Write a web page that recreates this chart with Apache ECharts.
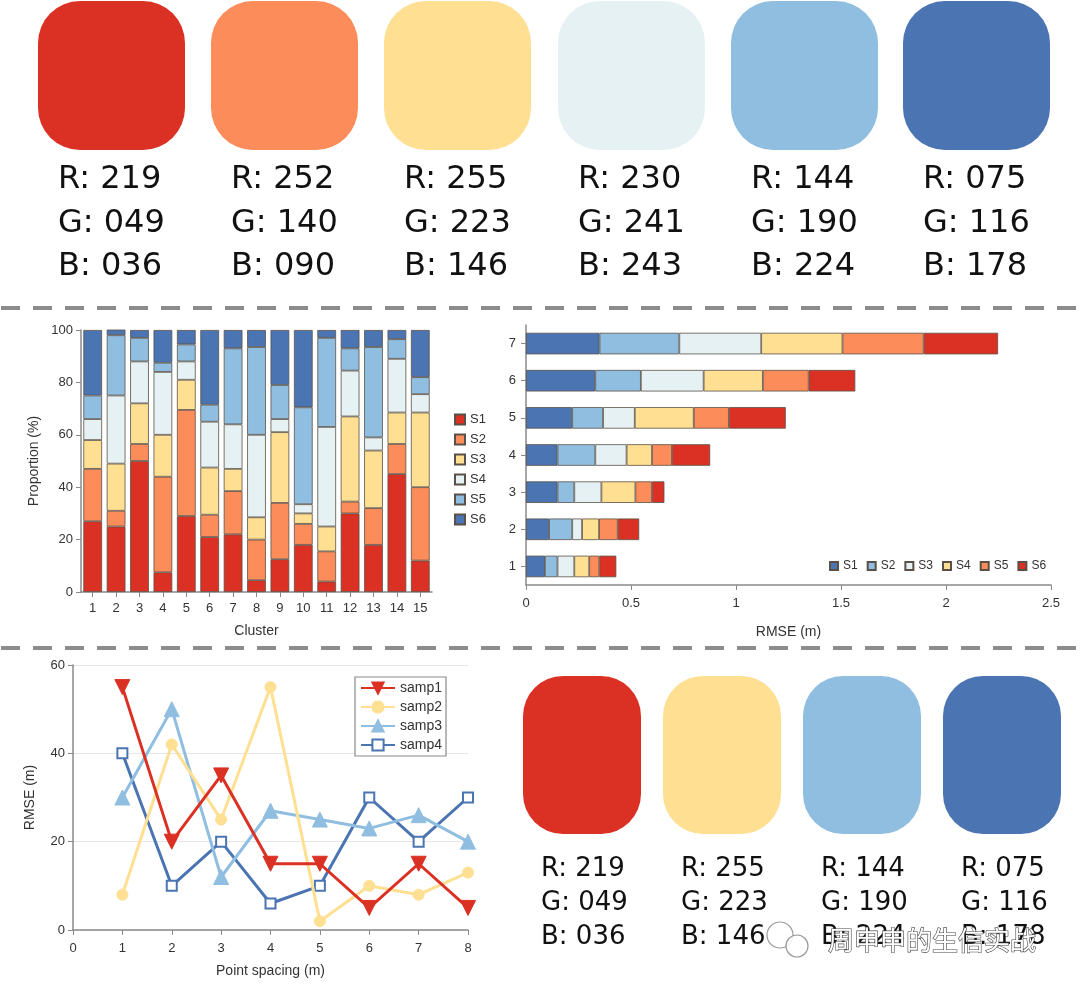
<!DOCTYPE html>
<html>
<head>
<meta charset="utf-8">
<script src="https://cdn.jsdelivr.net/npm/echarts@6/dist/echarts.min.js"></script>
<style>html,body{margin:0;padding:0;background:#fff;}#main{width:1080px;height:988px;}</style>
</head>
<body>
<div id="main"></div>
<script>
// ---------- DATA ----------
const topSwatchRGB = [[219,49,36],[252,140,90],[255,223,146],[230,241,243],[144,190,224],[75,116,178]];
const bottomSwatchRGB = [[219,49,36],[255,223,146],[144,190,224],[75,116,178]];

const clusters = ['1','2','3','4','5','6','7','8','9','10','11','12','13','14','15'];
const propNames = ['S1','S2','S3','S4','S5','S6'];
const propS1 = [27, 25, 50, 7.5, 29, 21, 22, 4.5, 12.5, 18, 4, 30, 18, 45, 12];
const propS2 = [20, 6, 6.5, 36.5, 40.5, 8.5, 16.5, 15.5, 21.5, 8, 11.5, 4.5, 14, 11.5, 28];
const propS3 = [11, 18, 15.5, 16, 11.5, 18, 8.5, 8.5, 27, 4, 9.5, 32.5, 22, 12, 28.5];
const propS4 = [8, 26, 16, 24, 7, 17.5, 17, 31.5, 5, 3.5, 38, 17.5, 5, 20.5, 7];
const propS5 = [9, 23, 9, 3.5, 6.5, 6.5, 29, 33.5, 13, 37, 34, 8.5, 34.5, 7.5, 6.5];
const propS6 = [25, 3, 3, 12.5, 5.5, 28.5, 7, 6.5, 21, 29.5, 3, 7, 6.5, 3.5, 18];

const rmseLevels = ['1','2','3','4','5','6','7'];
const rmseNames = ['S1','S2','S3','S4','S5','S6'];
const rmseS1 = [0.09, 0.11, 0.15, 0.15, 0.22, 0.33, 0.35];
const rmseS2 = [0.06, 0.11, 0.08, 0.18, 0.147, 0.217, 0.38];
const rmseS3 = [0.08, 0.047, 0.129, 0.149, 0.151, 0.299, 0.39];
const rmseS4 = [0.071, 0.081, 0.162, 0.121, 0.281, 0.282, 0.387];
const rmseS5 = [0.048, 0.089, 0.079, 0.095, 0.167, 0.218, 0.387];
const rmseS6 = [0.081, 0.102, 0.059, 0.182, 0.271, 0.222, 0.354];

const spacing = [1, 2, 3, 4, 5, 6, 7, 8];
const samp1 = [55, 20, 35, 15, 15, 5, 15, 5];
const samp2 = [8, 42, 25, 55, 2, 10, 8, 13];
const samp3 = [30, 50, 12, 27, 25, 23, 26, 20];
const samp4 = [40, 10, 20, 6, 10, 30, 20, 30];
const sampNames = ['samp1','samp2','samp3','samp4'];

const watermark = '周申申的生信实战';

// ---------- BUILD ----------
const rgb = c => 'rgb(' + c.join(',') + ')';
const pal = topSwatchRGB.map(rgb);          // red -> blue
const propColors = pal;
const rmseColors = pal.slice().reverse();   // blue -> red
const lineColors = bottomSwatchRGB.map(rgb);

const FONT = '"Liberation Sans", Arial, sans-serif';
const HAND = '"DejaVu Sans", sans-serif';
const axisGray = '#8a8a8a';
const txt = '#333';

const chart = echarts.init(document.getElementById('main'), null, {renderer: 'canvas'});

const graphics = [];
// top swatches
const topX = [38, 211, 384, 558, 731, 903];
topSwatchRGB.forEach((c, i) => {
  graphics.push({type: 'rect', shape: {x: topX[i], y: 1, width: 147, height: 149, r: 42}, style: {fill: rgb(c)}});
  ['R', 'G', 'B'].forEach((k, j) => {
    graphics.push({type: 'text', x: topX[i] + 20, y: [180, 224, 267][j],
      style: {text: k + ': ' + String(c[j]).padStart(3, '0'), fontSize: 32, fontFamily: HAND, fill: '#111', verticalAlign: 'middle'}});
  });
});
// bottom swatches
const botX = [523, 663, 803, 943];
bottomSwatchRGB.forEach((c, i) => {
  graphics.push({type: 'rect', shape: {x: botX[i], y: 676, width: 118, height: 158, r: 40}, style: {fill: rgb(c)}});
  ['R', 'G', 'B'].forEach((k, j) => {
    graphics.push({type: 'text', x: botX[i] + 18, y: [869, 903, 937][j],
      style: {text: k + ': ' + String(c[j]).padStart(3, '0'), fontSize: 26, fontFamily: HAND, fill: '#111', verticalAlign: 'middle'}});
  });
});
// dashed separators
[308, 648].forEach(y => {
  graphics.push({type: 'line', shape: {x1: 1, y1: y, x2: 1080, y2: y},
    style: {stroke: '#8c8c8c', lineWidth: 4, lineDash: [19, 13]}});
});
// watermark (icon + text)
graphics.push({type: 'circle', shape: {cx: 780, cy: 935, r: 13}, z: 100,
  style: {fill: 'rgba(255,255,255,0.85)', stroke: '#999', lineWidth: 1.2}});
graphics.push({type: 'circle', shape: {cx: 797, cy: 946, r: 11}, z: 100,
  style: {fill: 'rgba(255,255,255,0.85)', stroke: '#999', lineWidth: 1.2}});
graphics.push({type: 'text', x: 932, y: 940, z: 100,
  style: {text: watermark, fontSize: 26, fontFamily: '"Noto Sans CJK SC", sans-serif', fill: '#fff',
    stroke: '#444', lineWidth: 1.2, align: 'center', verticalAlign: 'middle'}});

const axisCommon = {
  axisLine: {show: true, lineStyle: {color: axisGray, width: 1.5}},
  axisTick: {show: true, lineStyle: {color: axisGray}},
  axisLabel: {color: txt, fontSize: 13, fontFamily: FONT},
  splitLine: {show: false},
  nameTextStyle: {color: txt, fontSize: 14, fontFamily: FONT}
};

const series = [];
[propS1, propS2, propS3, propS4, propS5, propS6].forEach((d, i) => {
  series.push({type: 'bar', name: propNames[i], stack: 'prop', xAxisIndex: 0, yAxisIndex: 0,
    data: d, barWidth: '80%',
    itemStyle: {color: propColors[i], borderColor: '#5a5048', borderWidth: 0.8}});
});
[rmseS1, rmseS2, rmseS3, rmseS4, rmseS5, rmseS6].forEach((d, i) => {
  series.push({type: 'bar', name: 'R-' + rmseNames[i], stack: 'rmse', xAxisIndex: 1, yAxisIndex: 1,
    data: d, barWidth: '58%',
    itemStyle: {color: rmseColors[i], borderColor: '#5a5048', borderWidth: 0.8}});
});
const symbols = ['triangle', 'circle', 'triangle', 'emptyRect'];
const symRot = [180, 0, 0, 0];
const symSize = [15, 11, 15, 10];
[samp1, samp2, samp3, samp4].forEach((d, i) => {
  series.push({type: 'line', name: sampNames[i], xAxisIndex: 2, yAxisIndex: 2,
    data: spacing.map((x, k) => [x, d[k]]),
    symbol: symbols[i], symbolRotate: symRot[i], symbolSize: symSize[i],
    lineStyle: {color: lineColors[i], width: 3},
    itemStyle: {color: lineColors[i], borderColor: lineColors[i], borderWidth: i === 3 ? 2.5 : 1},
    z: 10 - i});
});

const option = {
  backgroundColor: '#fff',
  animation: false,
  grid: [
    {left: 81, top: 330, width: 351, height: 262},
    {left: 526, top: 325, width: 525, height: 260},
    {left: 73, top: 665, width: 395, height: 265}
  ],
  xAxis: [
    Object.assign({}, axisCommon, {type: 'category', gridIndex: 0, data: clusters,
      axisTick: {show: true, alignWithLabel: true, lineStyle: {color: axisGray}},
      axisLabel: {color: txt, fontSize: 13, fontFamily: FONT, margin: 10},
      name: 'Cluster', nameLocation: 'middle', nameGap: 32}),
    Object.assign({}, axisCommon, {type: 'value', gridIndex: 1, min: 0, max: 2.5, interval: 0.5,
      axisLabel: {color: txt, fontSize: 13, fontFamily: FONT, margin: 12},
      name: 'RMSE (m)', nameLocation: 'middle', nameGap: 40}),
    Object.assign({}, axisCommon, {type: 'value', gridIndex: 2, min: 0, max: 8, interval: 1,
      axisLabel: {color: txt, fontSize: 13, fontFamily: FONT, margin: 12},
      name: 'Point spacing (m)', nameLocation: 'middle', nameGap: 34})
  ],
  yAxis: [
    Object.assign({}, axisCommon, {type: 'value', gridIndex: 0, min: 0, max: 100, interval: 20,
      name: 'Proportion (%)', nameLocation: 'middle', nameGap: 40}),
    Object.assign({}, axisCommon, {type: 'category', gridIndex: 1, data: rmseLevels,
      axisTick: {show: true, alignWithLabel: true, lineStyle: {color: axisGray}},
      axisLabel: {color: txt, fontSize: 13, fontFamily: FONT, margin: 10}}),
    Object.assign({}, axisCommon, {type: 'value', gridIndex: 2, min: 0, max: 60, interval: 20,
      splitLine: {show: true, lineStyle: {color: '#e6e6e6'}},
      name: 'RMSE (m)', nameLocation: 'middle', nameGap: 36})
  ],
  legend: [
    {data: propNames, orient: 'vertical', left: 449, top: 408, itemWidth: 10, itemHeight: 10, itemGap: 7,
      icon: 'rect', textStyle: {color: txt, fontSize: 13, fontFamily: FONT}},
    {data: rmseNames.map(n => 'R-' + n), formatter: n => n.replace('R-', ''), orient: 'horizontal',
      left: 824, top: 555, itemWidth: 8, itemHeight: 8, itemGap: 9, icon: 'rect',
      textStyle: {color: txt, fontSize: 12, fontFamily: FONT}},
    {data: sampNames, orient: 'vertical', left: 355, top: 677, padding: [4, 4, 4, 5], itemWidth: 34, itemHeight: 14, itemGap: 5,
      borderColor: '#8a8a8a', borderWidth: 1.2, backgroundColor: '#fff',
      textStyle: {color: txt, fontSize: 14, fontFamily: FONT}}
  ],
  series: series,
  graphic: {elements: graphics}
};
chart.setOption(option);
</script>
</body>
</html>
